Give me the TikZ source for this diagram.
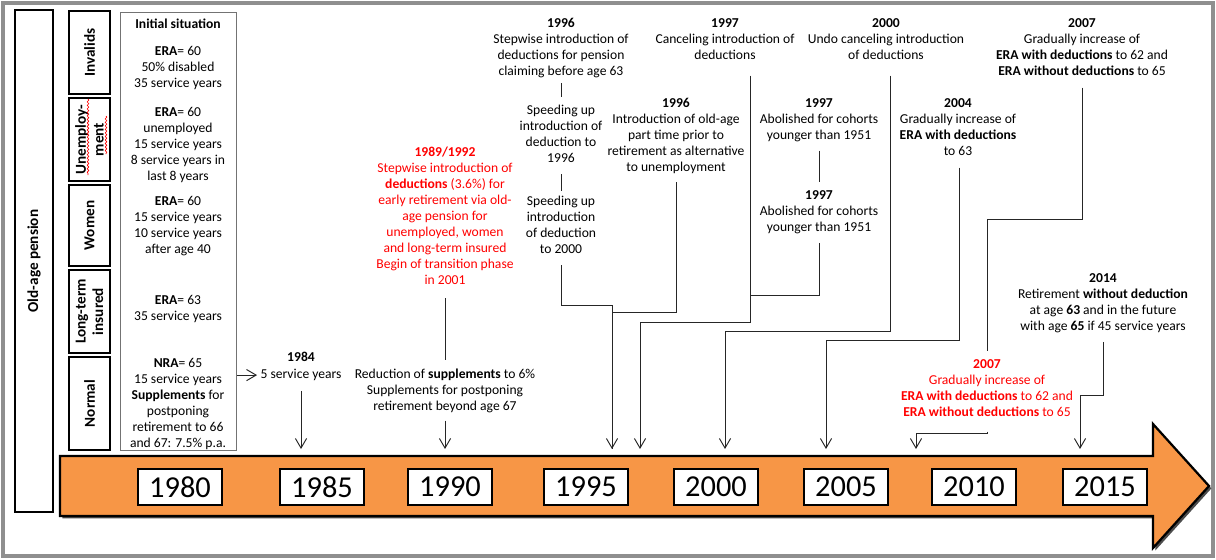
\documentclass[tikz,border=0pt]{standalone}
\usepackage{fontspec}
\setmainfont{Carlito}
\usetikzlibrary{arrows.meta,shadows,decorations.pathmorphing}
\usetikzlibrary{positioning}
\definecolor{timeorange}{HTML}{F79646}
\definecolor{framegray}{HTML}{8F8F8F}

\begin{document}
\begin{tikzpicture}[x=0.625pt,y=-0.625pt,
    txt/.style={align=center,inner sep=0pt,anchor=north,font=\fontsize{8.5}{10}\selectfont},
    redtxt/.style={txt,text=red},
    catbox/.style={draw,line width=1.5pt,rotate=90,inner sep=0pt,align=center,font=\fontsize{9.5}{11}\selectfont\bfseries,minimum height=25.5pt},
    yearbox/.style={draw,line width=1.3pt,fill=white,inner sep=0pt,minimum width=52pt,minimum height=22pt,font=\fontsize{19}{19}\selectfont,drop shadow={shadow xshift=1pt,shadow yshift=-1pt,fill=black,opacity=0.6}},
    conn/.style={black!85,line width=0.6pt},
    tip/.style={conn,-{Straight Barb[length=6pt,width=7pt]}}]
  \useasboundingbox (0,0) rectangle (1216,559);
  \draw[framegray,line width=2pt] (3,3) rectangle (1213,556);

  % left side: pension types and initial situation
  \node[catbox,minimum width=313.75pt,minimum height=23.75pt] (oldage) at (34,261) {Old-age pension};
  \node[catbox,minimum width=52pt] (invalids) at (89.5,52.5) {Invalids};
  \node[catbox,minimum width=52pt] (unemp) at (89.5,139.5) {Unemploy-\\ment};
  \node[catbox,minimum width=50.6pt] (women) at (89.5,225.5) {Women};
  \node[catbox,minimum width=52pt] (longterm) at (89.5,311.5) {Long-term\\insured};
  \node[catbox,minimum width=58pt] (normal) at (89.5,403.5) {Normal};
  \draw[red,decorate,decoration={snake,amplitude=0.5pt,segment length=2.2pt}] (88,99) -- (88,175);
  \draw[red,decorate,decoration={snake,amplitude=0.5pt,segment length=2.2pt}] (106,116) -- (106,154);

  \node[draw=black!55,line width=0.6pt,minimum width=73pt,minimum height=273.75pt,inner sep=0pt] (init) at (178.5,231) {};
  \node[txt] (inithead) at (178,19) {\textbf{Initial situation}};
  \node[txt] (initinv) at (178,46) {\textbf{ERA}= 60\\50\% disabled\\35 service years};
  \node[txt] (initunemp) at (178,107) {\textbf{ERA}= 60\\unemployed\\15 service years\\8 service years in\\last 8 years};
  \node[txt] (initwomen) at (178,196) {\textbf{ERA}= 60\\15 service years\\10 service years\\after age 40};
  \node[txt] (initlong) at (178,295) {\textbf{ERA}= 63\\35 service years};
  \node[txt] (initnormal) at (178,358) {\textbf{NRA}= 65\\15 service years\\\textbf{Supplements} for\\postponing\\retirement to 66\\and 67: 7.5\% p.a.};

  % timeline
  \draw[line width=1.4pt,fill=timeorange,drop shadow={shadow xshift=1.5pt,shadow yshift=-1.5pt,fill=black!70,opacity=1}]
    (60,456) -- (1153,456) -- (1153,424) -- (1209,486) -- (1153,548) -- (1153,516) -- (60,516) -- cycle;
  \foreach \yr/\px in {1980/180,1985/322,1990/450,1995/586,2000/716,2005/846,2010/974,2015/1105}
    \node[yearbox] (y\yr) at (\px,487) {\yr};

  \coordinate (tip84) at (301,449);
  \coordinate (tip90) at (445,449);
  \coordinate (tip95a) at (612,449);
  \coordinate (tip95b) at (640,449);
  \coordinate (tip00) at (725,449);
  \coordinate (tip05) at (826,449);
  \coordinate (tip10) at (916,449);
  \coordinate (tip15) at (1080,449);

  % events
  \node[txt] (n1984) at (301,352) {\textbf{1984}};
  \node[txt] (n1984txt) at (301,369) {5 service years};
  \node[redtxt] (nred) at (445,147) {\textbf{1989/1992}\\Stepwise introduction of\\\textbf{deductions} (3.6\%) for\\early retirement via old-\\age pension for\\unemployed, women\\and long-term insured\\Begin of transition phase\\in 2001};
  \node[txt] (nreduct) at (445,369) {Reduction of \textbf{supplements} to 6\%\\Supplements for postponing\\retirement beyond age 67};
  \node[txt] (n96a) at (561,18) {\textbf{1996}\\Stepwise introduction of\\deductions for pension\\claiming before age 63};
  \node[txt] (n96b) at (561,105) {Speeding up\\introduction of\\deduction to\\1996};
  \node[txt] (n96c) at (561,196) {Speeding up\\introduction\\of deduction\\to 2000};
  \node[txt] (n96pt) at (676,98) {\textbf{1996}\\Introduction of old-age\\part time prior to\\retirement as alternative\\to unemployment};
  \node[txt] (n97a) at (725,18) {\textbf{1997}\\Canceling introduction of\\deductions};
  \node[txt] (n97b) at (819,98) {\textbf{1997}\\Abolished for cohorts\\younger than 1951};
  \node[txt] (n97c) at (819,190) {\textbf{1997}\\Abolished for cohorts\\younger than 1951};
  \node[txt] (n00) at (886,18) {\textbf{2000}\\Undo canceling introduction\\of deductions};
  \node[txt] (n04) at (958,98) {\textbf{2004}\\Gradually increase of\\\textbf{ERA with deductions}\\to 63};
  \node[txt] (n07) at (1082,18) {\textbf{2007}\\Gradually increase of\\\textbf{ERA with deductions} to 62 and\\\textbf{ERA without deductions} to 65};
  \node[redtxt] (n07r) at (987,359) {\textbf{2007}\\Gradually increase of\\\textbf{ERA with deductions} to 62 and\\\textbf{ERA without deductions} to 65};
  \node[txt] (n14) at (1103,273) {\textbf{2014}\\Retirement \textbf{without deduction}\\at age \textbf{63} and in the future\\with age \textbf{65} if 45 service years};

  % connectors
  \draw[tip,shorten >=2pt] (init.east |- n1984txt) -- (n1984txt.west);
  \draw[tip,shorten <=6pt] (n1984txt) -- (tip84);
  \draw[conn,shorten <=8pt,shorten >=5.6pt] (nred) -- (nreduct);
  \draw[tip,shorten <=4.4pt] (nreduct) -- (tip90);
  \draw[conn,shorten <=3pt,shorten >=5pt] (n96a) -- (n96b);
  \draw[conn,shorten <=7pt,shorten >=3pt] (n96b) -- (n96c);
  \draw[tip] ([yshift=-7pt]n96c.south) -- ++(0,40) -| (tip95a);
  \draw[conn] ([yshift=-5pt]n96pt.south) -- ++(0,130) -| (tip95a);
  \draw[tip] ([xshift=16pt,yshift=-10pt]n97a.south) -- ++(0,247) -| (tip95b);
  \draw[conn,shorten <=5.5pt,shorten >=5pt] (n97b) -- (n97c);
  \draw[conn] ([yshift=-5.6pt]n97c.south) -- ++(0,53) -- ++(-68,0);
  \draw[tip] ([xshift=2.5pt,yshift=-10pt]n00.south) -- ++(0,256) -| (tip00);
  \draw[tip] ([xshift=1.2pt,yshift=-7.5pt]n04.south) -- ++(0,173) -| (tip05);
  \draw[conn] ([yshift=-7.5pt]n07.south) -- ++(0,132) -| ([yshift=5pt]n07r.north);
  \draw[tip] ([yshift=-9.4pt]n07r.south) -- ++(0,2) -| (tip10);
  \draw[tip] ([yshift=-5.6pt]n14.south) -- ++(0,54) -| (tip15);
\end{tikzpicture}
\end{document}
